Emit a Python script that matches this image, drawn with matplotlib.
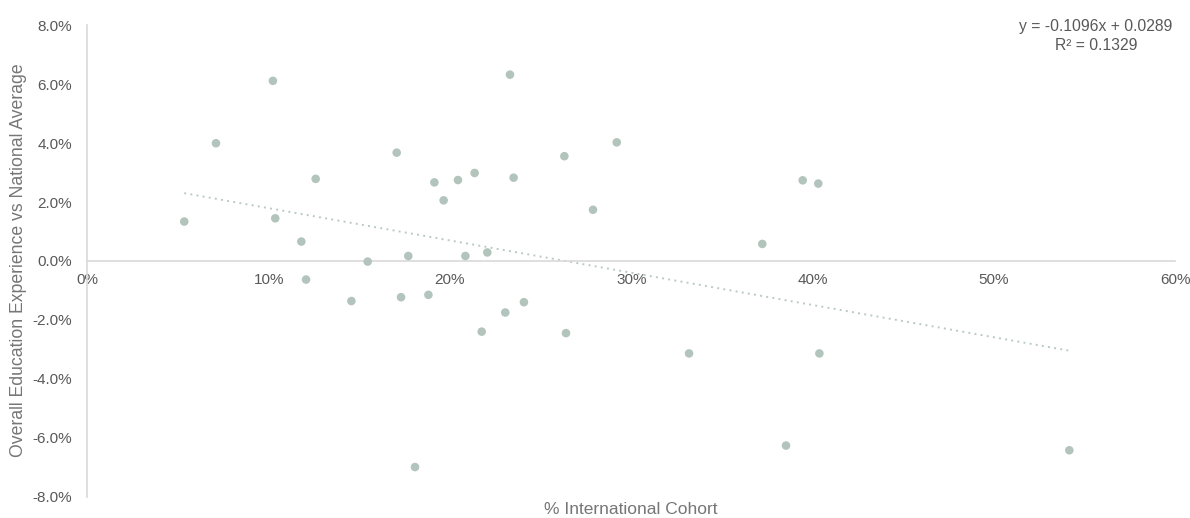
import matplotlib
matplotlib.use("Agg")
import matplotlib.pyplot as plt
import numpy as np
from matplotlib.ticker import PercentFormatter

plt.rcParams["font.family"] = ["Liberation Sans", "DejaVu Sans"]
plt.rcParams["axes.unicode_minus"] = False

#Data (shares as fractions)

intl_cohort = [0.0534, 0.0709, 0.1023, 0.1036, 0.1259, 0.1180, 0.1546, 0.1706, 0.1206,
               0.1456, 0.1730, 0.1770, 0.1914, 0.1965, 0.2044, 0.2136, 0.2085, 0.2206,
               0.2331, 0.2351, 0.2631, 0.2789, 0.2920, 0.3723, 0.3946, 0.4032, 0.1881,
               0.1807, 0.2175, 0.2305, 0.2408, 0.2640, 0.3319, 0.3854, 0.4038, 0.5417]

edu_vs_avg = [0.0134, 0.0400, 0.0612, 0.0145, 0.0279, 0.0066, -0.0002, 0.0368, -0.0063,
              -0.0136, -0.0123, 0.0017, 0.0267, 0.0206, 0.0275, 0.0299, 0.0017, 0.0029,
              0.0633, 0.0283, 0.0356, 0.0174, 0.0403, 0.0058, 0.0274, 0.0263, -0.0115,
              -0.0700, -0.0240, -0.0175, -0.0140, -0.0245, -0.0314, -0.0627, -0.0314, -0.0643]

#Linear trendline

slope = -0.1096
intercept = 0.0289
r_squared = 0.1329

#Plot

fig = plt.figure(figsize=(11.9, 5.18), dpi=100)
ax = fig.add_axes([0.0735, 0.0415, 0.9139, 0.9093])

ax.scatter(intl_cohort, edu_vs_avg, s=38, color="#B2C4BC", edgecolors="none", zorder=3)

trend_x = np.array([min(intl_cohort), max(intl_cohort)])
ax.plot(trend_x, slope * trend_x + intercept, color="#BACAC3", lw=1.4,
        linestyle=(0, (1, 2.2)), zorder=2)

ax.set_xlim(0, 0.6)
ax.set_ylim(-0.08, 0.08)
ax.set_xticks(np.arange(0, 0.61, 0.1))
ax.set_yticks(np.arange(-0.08, 0.081, 0.02))
ax.xaxis.set_major_formatter(PercentFormatter(1.0, decimals=0))
ax.yaxis.set_major_formatter(PercentFormatter(1.0, decimals=1))

for side in ["top", "right"]:
    ax.spines[side].set_visible(False)
ax.spines["bottom"].set_position(("data", 0))
ax.spines["left"].set_color("#D9D9D9")
ax.spines["bottom"].set_color("#D9D9D9")
ax.spines["left"].set_linewidth(1.2)
ax.spines["bottom"].set_linewidth(1.2)

ax.tick_params(axis="both", length=0, labelsize=11, labelcolor="#595959")
ax.tick_params(axis="y", pad=11)
ax.tick_params(axis="x", pad=9)

fig.text(631 / 1190, 1 - 509 / 518, "% International Cohort", ha="center", va="center",
         fontsize=12.5, color="#767676")
fig.text(19 / 1190, 0.497, "Overall Education Experience vs National Average", ha="center",
         va="center", rotation=90, fontsize=12.7, color="#767676")

fig.text(1096 / 1190, 1 - 36 / 518,
         "y = {:.4f}x + {:.4f}\nR² = {:.4f}".format(slope, intercept, r_squared),
         ha="center", va="center", multialignment="center", fontsize=11.3, color="#595959",
         linespacing=1.4)

plt.savefig("out.png", dpi=100)
